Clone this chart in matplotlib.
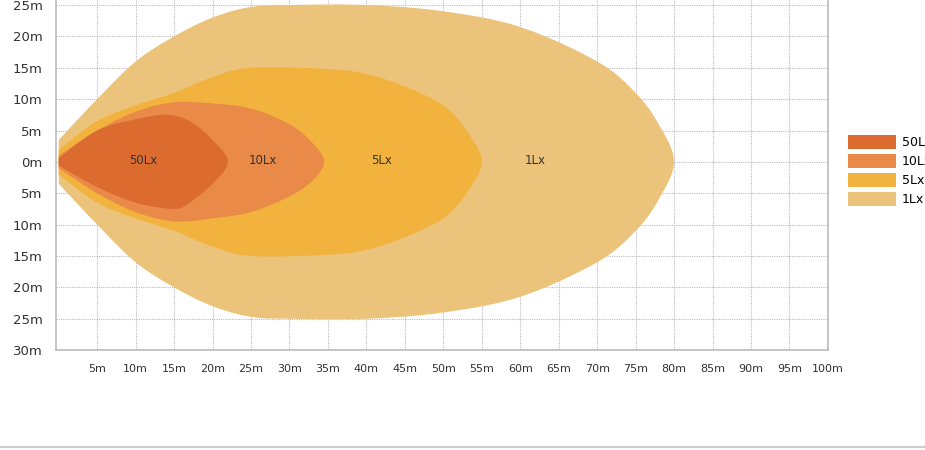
import numpy as np
import matplotlib
matplotlib.use("Agg")
import matplotlib.pyplot as plt
from matplotlib.patches import Patch
from matplotlib.lines import Line2D

labels = ["50Lx", "10Lx", "5Lx", "1Lx"]
colors = ["#DC6B30", "#E98A48", "#F2B23E", "#EBC37A"]

# outline points (x distance m, lateral m)
lx1_x = [0, 5, 10, 15, 20, 25, 30, 40, 50, 60, 70, 75, 78, 80, 78, 75, 70, 60, 50, 40, 30, 25, 20, 15, 10, 5, 0]
lx1_y = [3.5, 10, 16, 20, 23, 24.7, 25, 25, 24, 21.5, 16, 11, 6, 0, -6, -11, -16, -21.5, -24, -25, -25, -24.7, -23, -20, -16, -10, -3.5]
lx5_x = [0, 5, 10, 15, 20, 25, 35, 40, 45, 50, 53, 55, 53, 50, 45, 40, 35, 25, 20, 15, 10, 5, 0]
lx5_y = [2, 6.5, 9, 11, 13.5, 15, 14.8, 14, 12, 9, 5, 0, -5, -9, -12, -14, -14.8, -15, -13.5, -11, -9, -6.5, -2]
lx10_x = [0, 5, 10, 15, 20, 25, 30, 33, 34.5, 33, 30, 25, 20, 15, 10, 5, 0]
lx10_y = [1, 5, 8, 9.5, 9.3, 8.5, 6, 3, 0, -3, -5.5, -8, -9, -9.5, -8, -5, -1]
lx50_x = [0, 5, 10, 14, 17, 20, 22, 20, 17, 15, 10, 5, 0]
lx50_y = [0.6, 5, 6.8, 7.5, 6.5, 3.5, 0, -3.5, -6.5, -7.5, -6.5, -4, -0.6]

shapes = [(lx1_x, lx1_y, 3), (lx5_x, lx5_y, 2), (lx10_x, lx10_y, 1), (lx50_x, lx50_y, 0)]
label_x = [11, 26.5, 42, 62]

def smooth(xs, ys, n=12):
    p = np.column_stack([xs, ys]).astype(float)
    p = np.vstack([p[0], p, p[-1]])
    out = []
    for i in range(1, len(p) - 2):
        p0, p1, p2, p3 = p[i-1], p[i], p[i+1], p[i+2]
        for t in np.linspace(0, 1, n, endpoint=False):
            out.append(0.5 * ((2*p1) + (-p0+p2)*t + (2*p0-5*p1+4*p2-p3)*t**2 + (-p0+3*p1-3*p2+p3)*t**3))
    out.append(p[-2])
    return np.array(out)

fig = plt.figure(figsize=(9.25, 4.5), dpi=100)
ax = fig.add_axes([0.061, 0.222, 0.834, 0.778])
for xs, ys, ci in shapes:
    pts = smooth(xs, ys)
    ax.fill(pts[:, 0], pts[:, 1], color=colors[ci], lw=0, zorder=2)
for i, lab in enumerate(labels):
    ax.text(label_x[i], 0.2, lab, ha="center", va="center", fontsize=8.5, color="#333333", zorder=3)

ax.set_xlim(-0.3, 99.1)
ax.set_ylim(-30, 25.8)
xt = np.arange(5, 101, 5)
ax.set_xticks(xt)
ax.set_xticklabels([f"{v}m" for v in xt], fontsize=8, color="#333333")
yt = np.arange(-30, 26, 5)
ax.set_yticks(yt)
ax.set_yticklabels([f"{abs(v)}m" for v in yt], fontsize=9.5, color="#333333")
ax.tick_params(length=0, pad=10)
ax.grid(True, color="#bbbbbb", ls=(0, (1, 1)), lw=0.8, zorder=1)
ax.set_axisbelow(True)
ax.spines["top"].set_visible(False)
for s in ["left", "bottom", "right"]:
    ax.spines[s].set_color("#bbbbbb")
    ax.spines[s].set_linewidth(1.2)

handles = [Patch(facecolor=c, edgecolor="none") for c in colors]
fig.legend(handles, labels, loc="upper left", bbox_to_anchor=(0.905, 0.725), frameon=False,
           fontsize=9, handlelength=3.8, handleheight=1.3, labelspacing=0.4, handletextpad=0.5)
fig.add_artist(Line2D([0.0, 1.0], [0.006, 0.006], color="#cccccc", lw=1.5))
fig.savefig("out.png", dpi=100)
